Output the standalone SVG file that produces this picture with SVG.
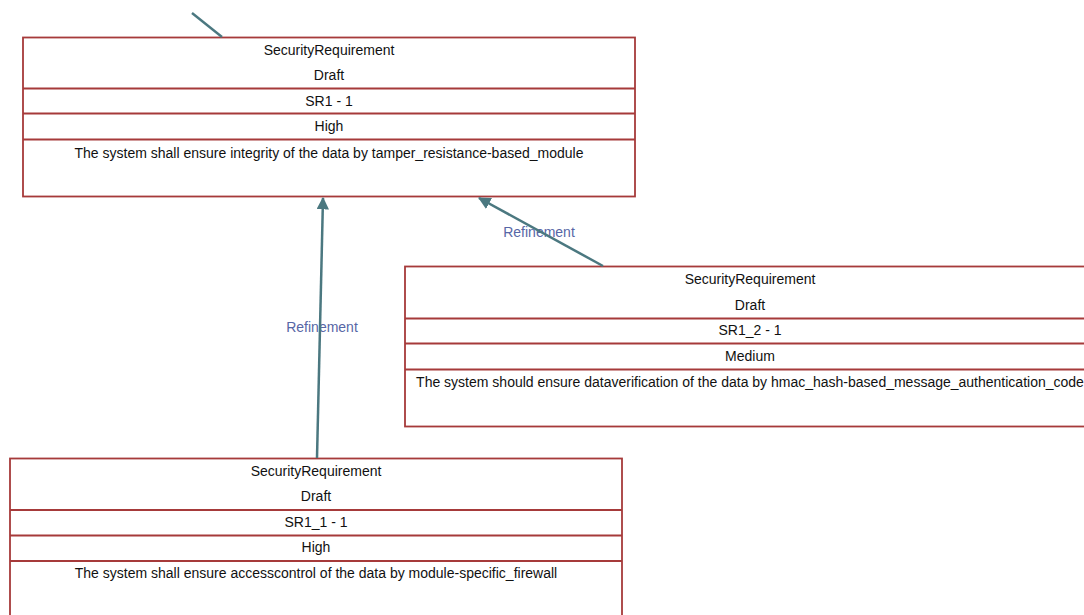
<svg xmlns="http://www.w3.org/2000/svg" width="1084" height="615" viewBox="0 0 1084 615">
  <style>
    .box { fill: #ffffff; stroke: #a63a3a; stroke-width: 1.8; }
    .div { stroke: #a63a3a; stroke-width: 1.8; }
    .t { font-family: "Liberation Sans", Arial, sans-serif; font-size: 14px; fill: #111111; text-anchor: middle; }
    .lbl { font-family: "Liberation Sans", Arial, sans-serif; font-size: 14px; fill: #5766a6; text-anchor: middle; }
    .edge { stroke: #4b7880; stroke-width: 2.5; fill: none; }
  </style>
  <defs>
    <marker id="arrow" viewBox="0 0 12 12" refX="11" refY="6" markerWidth="5" markerHeight="5" orient="auto" markerUnits="strokeWidth">
      <path d="M0,0 L12,6 L0,12 z" fill="#4b7880"/>
    </marker>
  </defs>
  <rect width="1084" height="615" fill="#ffffff"/>

  <!-- SR1 - 1 -->
  <g id="sr1">
    <rect class="box" x="23" y="37.5" width="612" height="159"/>
    <line class="div" x1="23" y1="88.5" x2="635" y2="88.5"/>
    <line class="div" x1="23" y1="113.5" x2="635" y2="113.5"/>
    <line class="div" x1="23" y1="139.5" x2="635" y2="139.5"/>
    <text class="t" x="329" y="55">SecurityRequirement</text>
    <text class="t" x="329" y="80">Draft</text>
    <text class="t" x="329" y="106">SR1 - 1</text>
    <text class="t" x="329" y="131">High</text>
    <text class="t" x="329" y="158">The system shall ensure integrity of the data by tamper_resistance-based_module</text>
  </g>

  <!-- SR1_2 - 1 -->
  <g id="sr1_2">
    <rect class="box" x="405" y="266.5" width="690" height="160"/>
    <line class="div" x1="405" y1="318.5" x2="1095" y2="318.5"/>
    <line class="div" x1="405" y1="343.5" x2="1095" y2="343.5"/>
    <line class="div" x1="405" y1="369.5" x2="1095" y2="369.5"/>
    <text class="t" x="750" y="284">SecurityRequirement</text>
    <text class="t" x="750" y="310">Draft</text>
    <text class="t" x="750" y="335">SR1_2 - 1</text>
    <text class="t" x="750" y="361">Medium</text>
    <text class="t" x="750" y="387">The system should ensure dataverification of the data by hmac_hash-based_message_authentication_code</text>
  </g>

  <!-- SR1_1 - 1 -->
  <g id="sr1_1">
    <rect class="box" x="10" y="458.5" width="612" height="170"/>
    <line class="div" x1="10" y1="510" x2="622" y2="510"/>
    <line class="div" x1="10" y1="535.5" x2="622" y2="535.5"/>
    <line class="div" x1="10" y1="561" x2="622" y2="561"/>
    <text class="t" x="316" y="476">SecurityRequirement</text>
    <text class="t" x="316" y="501">Draft</text>
    <text class="t" x="316" y="527">SR1_1 - 1</text>
    <text class="t" x="316" y="552">High</text>
    <text class="t" x="316" y="578">The system shall ensure accesscontrol of the data by module-specific_firewall</text>
  </g>

  <!-- Refinement links -->
  <g id="connectors">
    <text class="lbl" x="322" y="332">Refinement</text>
    <text class="lbl" x="539" y="237">Refinement</text>
    <path class="edge" d="M317,458 L323,198" marker-end="url(#arrow)"/>
    <path class="edge" d="M603,266 L479,198" marker-end="url(#arrow)"/>
    <path class="edge" d="M192,13 L222,37"/>
  </g>
</svg>
